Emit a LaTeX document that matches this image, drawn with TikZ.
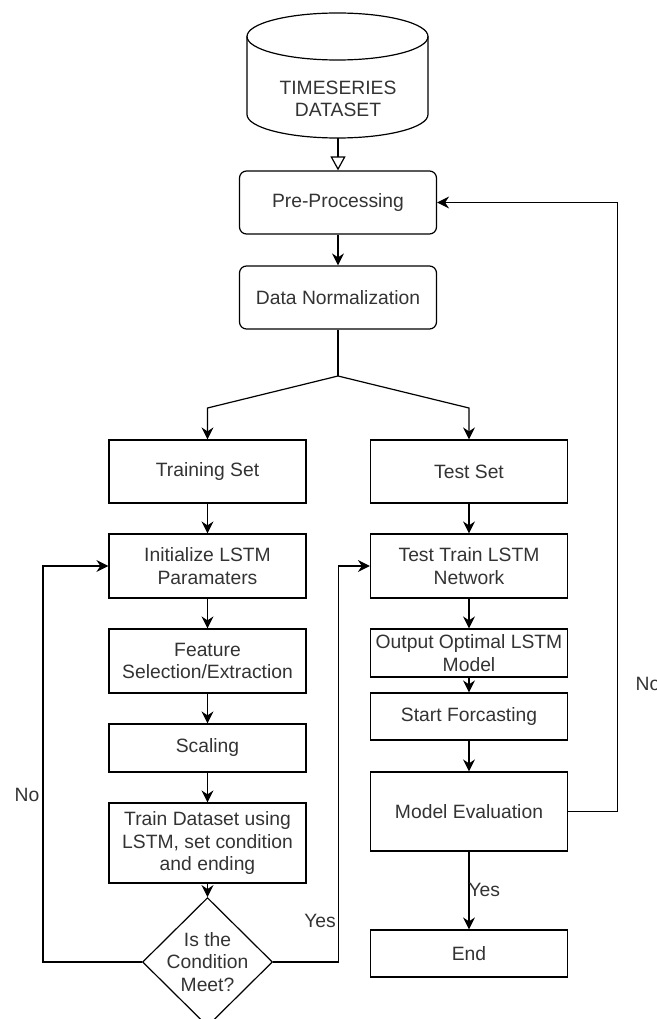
\documentclass[tikz,border=0pt]{standalone}
\usepackage{fontspec}
\setmainfont{Liberation Sans}
\usetikzlibrary{arrows.meta, shapes.geometric}

\begin{document}
\begin{tikzpicture}[x=1pt, y=-1pt, line width=1.2pt,
    every node/.style={font=\fontsize{19.3}{22.5}\selectfont, text=black!80, align=center},
    box/.style={draw, text=black!80, minimum width=197pt, inner sep=2pt},
    rbox/.style={box, rounded corners=7pt},
    arr/.style={-{Stealth[length=12pt, width=12pt, inset=4pt]}},
    opentri/.style={-{Triangle[open, length=14pt, width=15pt]}},
    lbl/.style={inner sep=1pt}]
        \useasboundingbox (0,0) rectangle (656,1019);

        % Dataset cylinder
        \draw (247,36.5) -- (247,114.5) arc[start angle=180, end angle=0, x radius=90.5, y radius=23.5] -- (428,36.5);
        \draw (337.5,36.5) ellipse[x radius=90.5, y radius=23.5];
        \node (data) at (338,99) {TIMESERIES\\DATASET};
        \coordinate (datab) at (338,138);

        % Common steps
        \node[rbox, minimum height=63pt] (pre) at (338,202.5) {Pre-Processing};
        \node[rbox, minimum height=63pt] (dn) at (338,297.5) {Data Normalization};
        \coordinate (split) at (338,376);
        \coordinate (forkl) at (207.5,408);
        \coordinate (forkr) at (469,408);

        % Training branch
        \node[box, minimum height=63pt] (train) at (207.5,471.5) {Training Set};
        \node[box, minimum height=64pt] (init) at (207.5,566) {Initialize LSTM\\Paramaters};
        \node[box, minimum height=64pt] (feat) at (207.5,661) {Feature\\Selection/Extraction};
        \node[box, minimum height=48pt] (scal) at (207.5,748) {Scaling};
        \node[box, minimum height=80pt] (tds) at (207.5,843) {Train Dataset using\\LSTM, set condition\\and ending};
        \node[diamond, draw, inner sep=-3pt, minimum width=130pt, minimum height=126pt] (cond) at (207.5,962) {Is the\\Condition\\Meet?};

        % Test branch
        \node[box, minimum height=63pt] (test) at (469,471.5) {Test Set};
        \node[box, minimum height=64pt] (ttl) at (469,566) {Test Train LSTM\\Network};
        \node[box, minimum height=48pt] (opt) at (469,653) {Output Optimal LSTM\\Model};
        \node[box, minimum height=47pt] (fc) at (469,716.5) {Start Forcasting};
        \node[box, minimum height=79pt] (me) at (469,811.5) {Model Evaluation};
        \node[box, minimum height=47pt] (stop) at (469,953.5) {End};

        % Connectors
        \draw[opentri] (datab) -- (pre);
        \draw[arr] (pre) -- (dn);
        \draw (dn) -- (split);
        \draw[arr] (split) -- (forkl) -- (train);
        \draw[arr] (split) -- (forkr) -- (test);
        \draw[arr] (train) -- (init);
        \draw[arr] (init) -- (feat);
        \draw[arr] (feat) -- (scal);
        \draw[arr] (scal) -- (tds);
        \draw[arr] (tds) -- (cond);
        \draw[arr] (test) -- (ttl);
        \draw[arr] (ttl) -- (opt);
        \draw[arr] (opt) -- (fc);
        \draw[arr] (fc) -- (me);
        \draw[arr] (me) -- (stop);

        % Loops back
        \draw[arr] (cond.west) -- ++(-99,0) |- (init);
        \draw[arr] (cond.east) -- ++(65,0) |- (ttl);
        \draw[arr] (me.east) -- ++(49,0) |- (pre);

        % Labels
        \node[lbl] (no1) at (27,795) {No};
        \node[lbl] (yes1) at (320,921) {Yes};
        \node[lbl, anchor=west] (no2) at (634,684) {No};
        \node[lbl, anchor=west] (yes2) at (467,890) {Yes};
    \end{tikzpicture}
\end{document}
